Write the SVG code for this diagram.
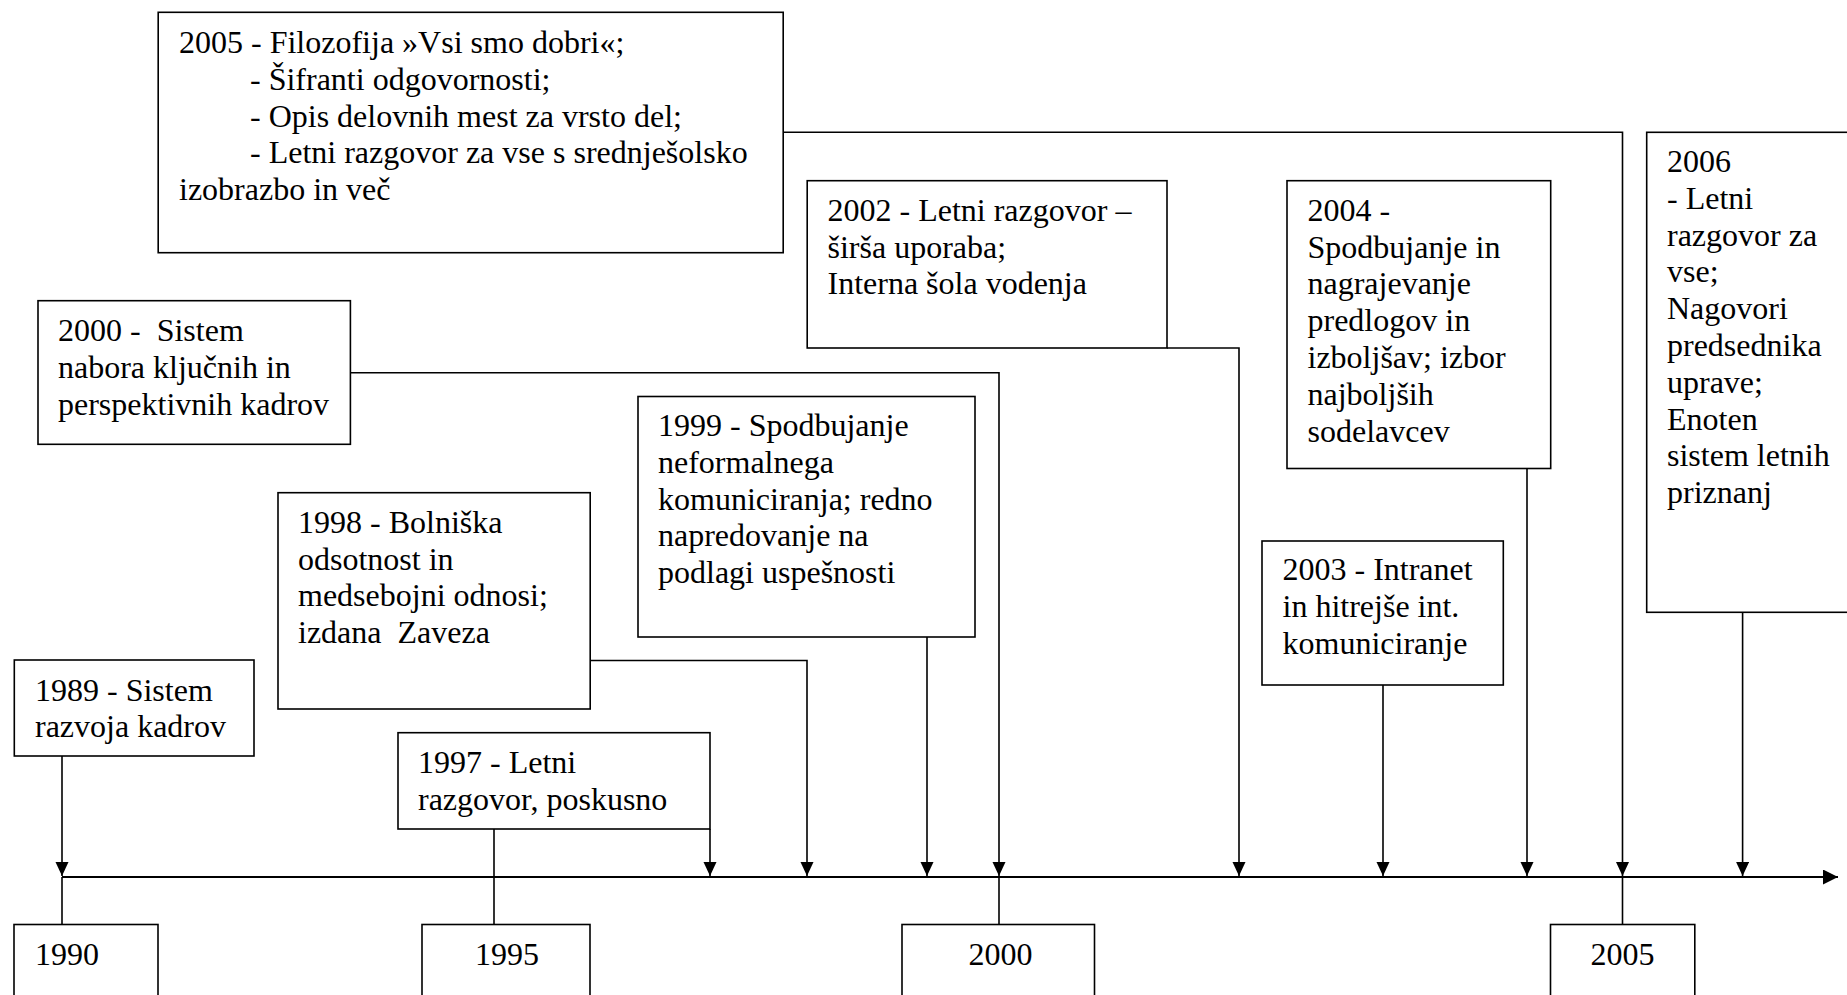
<svg xmlns="http://www.w3.org/2000/svg" width="1847" height="995" viewBox="0 0 1847 995">
  <style>
    .box { fill: #fff; stroke: #000; stroke-width: 1.6; }
    .lbl { font-family: "Liberation Serif", "Times New Roman", serif; font-size: 32px; fill: #000; white-space: pre; }
    .mid { text-anchor: middle; }
    .con { fill: none; stroke: #000; stroke-width: 1.6; }
    .arr { marker-end: url(#head); }
    .axis { fill: none; stroke: #000; stroke-width: 2.2; marker-end: url(#axisHead); }
  </style>
  <defs>
    <marker id="head" markerUnits="userSpaceOnUse" markerWidth="14" markerHeight="14" refX="14" refY="6.5" orient="auto">
      <path d="M0,0 L14,6.5 L0,13 Z" fill="#000"/>
    </marker>
    <marker id="axisHead" markerUnits="userSpaceOnUse" markerWidth="16" markerHeight="16" refX="15" refY="7.5" orient="auto">
      <path d="M0,0 L15,7.5 L0,15 Z" fill="#000"/>
    </marker>
  </defs>

  <rect width="1847" height="995" fill="#fff"/>

  <!-- time axis and connectors -->
  <g id="connectors">
    <line class="axis" x1="62" y1="877" x2="1838" y2="877"/>
    <!-- ticks below the axis to the year boxes -->
    <line class="con" x1="62" y1="877" x2="62" y2="925"/>
    <line class="con" x1="494" y1="829" x2="494" y2="925"/>
    <line class="con" x1="999" y1="877" x2="999" y2="925"/>
    <line class="con" x1="1622.5" y1="877" x2="1622.5" y2="925"/>
    <!-- event arrows -->
    <path class="con arr" d="M62,756 V876"/>
    <path class="con arr" d="M710,829 V876"/>
    <path class="con arr" d="M590,660.5 H807 V876"/>
    <path class="con arr" d="M927,637 V876"/>
    <path class="con arr" d="M350,372.7 H999 V876"/>
    <path class="con arr" d="M1167,348 H1239 V876"/>
    <path class="con arr" d="M1383,685 V876"/>
    <path class="con arr" d="M1527,468.5 V876"/>
    <path class="con arr" d="M783,132.3 H1622.5 V876"/>
    <path class="con arr" d="M1742.6,612.3 V876"/>
  </g>

  <g id="n2005">
    <rect class="box" x="158.2" y="12.3" width="625" height="240.4"/>
    <text class="lbl" y="53">
      <tspan x="179">2005 - Filozofija »Vsi smo dobri«;</tspan>
      <tspan x="250" dy="36.8">- Šifranti odgovornosti;</tspan>
      <tspan x="250" dy="36.8">- Opis delovnih mest za vrsto del;</tspan>
      <tspan x="250" dy="36.8">- Letni razgovor za vse s srednješolsko</tspan>
      <tspan x="179" dy="36.8">izobrazbo in več</tspan>
    </text>
  </g>

  <g id="n2000sistem">
    <rect class="box" x="38" y="300.7" width="312.4" height="143.6"/>
    <text class="lbl" y="341">
      <tspan x="58">2000 -  Sistem</tspan>
      <tspan x="58" dy="36.8">nabora ključnih in</tspan>
      <tspan x="58" dy="36.8">perspektivnih kadrov</tspan>
    </text>
  </g>

  <g id="n1998">
    <rect class="box" x="278" y="492.7" width="312.2" height="216.3"/>
    <text class="lbl" y="532.7">
      <tspan x="298">1998 - Bolniška</tspan>
      <tspan x="298" dy="36.8">odsotnost in</tspan>
      <tspan x="298" dy="36.8">medsebojni odnosi;</tspan>
      <tspan x="298" dy="36.8">izdana  Zaveza</tspan>
    </text>
  </g>

  <g id="n1989">
    <rect class="box" x="14.3" y="660" width="239.7" height="96"/>
    <text class="lbl" y="700.5">
      <tspan x="35">1989 - Sistem</tspan>
      <tspan x="35" dy="36.8">razvoja kadrov</tspan>
    </text>
  </g>

  <g id="n1997">
    <rect class="box" x="398" y="732.7" width="312" height="96.3"/>
    <text class="lbl" y="772.7">
      <tspan x="418">1997 - Letni</tspan>
      <tspan x="418" dy="36.8">razgovor, poskusno</tspan>
    </text>
  </g>

  <g id="n1999">
    <rect class="box" x="638" y="396.5" width="337" height="240.5"/>
    <text class="lbl" y="436">
      <tspan x="658">1999 - Spodbujanje</tspan>
      <tspan x="658" dy="36.8">neformalnega</tspan>
      <tspan x="658" dy="36.8">komuniciranja; redno</tspan>
      <tspan x="658" dy="36.8">napredovanje na</tspan>
      <tspan x="658" dy="36.8">podlagi uspešnosti</tspan>
    </text>
  </g>

  <g id="n2002">
    <rect class="box" x="807.2" y="180.7" width="359.8" height="167.3"/>
    <text class="lbl" y="220.7">
      <tspan x="827.5">2002 - Letni razgovor –</tspan>
      <tspan x="827.5" dy="36.8">širša uporaba;</tspan>
      <tspan x="827.5" dy="36.8">Interna šola vodenja</tspan>
    </text>
  </g>

  <g id="n2004">
    <rect class="box" x="1287" y="180.7" width="263.7" height="287.8"/>
    <text class="lbl" y="220.7">
      <tspan x="1307.5">2004 -</tspan>
      <tspan x="1307.5" dy="36.8">Spodbujanje in</tspan>
      <tspan x="1307.5" dy="36.8">nagrajevanje</tspan>
      <tspan x="1307.5" dy="36.8">predlogov in</tspan>
      <tspan x="1307.5" dy="36.8">izboljšav; izbor</tspan>
      <tspan x="1307.5" dy="36.8">najboljših</tspan>
      <tspan x="1307.5" dy="36.8">sodelavcev</tspan>
    </text>
  </g>

  <g id="n2003">
    <rect class="box" x="1262" y="541" width="241.3" height="144"/>
    <text class="lbl" y="580">
      <tspan x="1282.5">2003 - Intranet</tspan>
      <tspan x="1282.5" dy="36.8">in hitrejše int.</tspan>
      <tspan x="1282.5" dy="36.8">komuniciranje</tspan>
    </text>
  </g>

  <g id="n2006">
    <rect class="box" x="1646.7" y="132.3" width="230" height="480"/>
    <text class="lbl" y="172">
      <tspan x="1667">2006</tspan>
      <tspan x="1667" dy="36.8">- Letni</tspan>
      <tspan x="1667" dy="36.8">razgovor za</tspan>
      <tspan x="1667" dy="36.8">vse;</tspan>
      <tspan x="1667" dy="36.8">Nagovori</tspan>
      <tspan x="1667" dy="36.8">predsednika</tspan>
      <tspan x="1667" dy="36.8">uprave;</tspan>
      <tspan x="1667" dy="36.8">Enoten</tspan>
      <tspan x="1667" dy="36.8">sistem letnih</tspan>
      <tspan x="1667" dy="36.8">priznanj</tspan>
    </text>
  </g>

  <!-- year markers below the axis -->
  <g id="y1990">
    <rect class="box" x="14" y="924.5" width="144" height="90"/>
    <text class="lbl" x="35" y="965">1990</text>
  </g>
  <g id="y1995">
    <rect class="box" x="422" y="924.5" width="168" height="90"/>
    <text class="lbl mid" x="507" y="965">1995</text>
  </g>
  <g id="y2000">
    <rect class="box" x="902" y="924.5" width="192.5" height="90"/>
    <text class="lbl mid" x="1000.5" y="965">2000</text>
  </g>
  <g id="y2005">
    <rect class="box" x="1550.5" y="924.5" width="144.3" height="90"/>
    <text class="lbl mid" x="1622.5" y="965">2005</text>
  </g>
</svg>
